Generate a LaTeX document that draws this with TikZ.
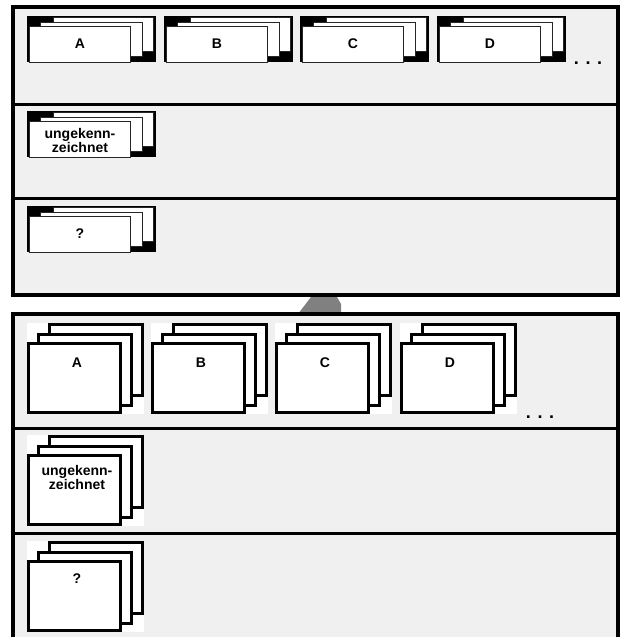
\documentclass[tikz,border=0pt]{standalone}
\usepackage{fontspec}
\setmainfont{Liberation Sans}
\definecolor{panelgray}{HTML}{F0F0F0}
\definecolor{arrowgray}{HTML}{808080}
\tikzset{
  frameline/.style={line width=4pt, line join=miter},
  divider/.style={line width=3pt},
  tcard/.style={fill=white, draw=black!85, line width=1pt},
  bcard/.style={fill=white, draw=black, line width=3pt},
  lbl/.style={font=\bfseries\fontsize{14}{14}\selectfont, align=center, inner sep=0pt},
  dotlbl/.style={font=\bfseries\fontsize{18}{18}\selectfont, inner sep=0pt, anchor=base},
}
\newcommand\TopGroup[5]{%
  \begin{scope}[shift={(#2,#3)}]
    \fill[black] (0,0) rectangle (129,46);
    \draw[tcard] (26.5,1.5) rectangle (126.5,35.5);
    \draw[tcard] (13.5,6.5) rectangle (115.5,40.5);
    \draw[tcard] (2.5,10.5) rectangle (103.5,46);
    \node[lbl] (#1) at (53,#5) {#4};
  \end{scope}}
\newcommand\BotGroup[5]{%
  \begin{scope}[shift={(#2,#3)}]
    \fill[white] (0,0) rectangle (117,91);
    \draw[bcard] (22.8,1.5) rectangle (115.5,72.5);
    \draw[bcard] (11.2,11.2) rectangle (104.2,82.2);
    \draw[bcard] (1.8,20.2) rectangle (93.2,89.8);
    \node[lbl] (#1) at (50,#5) {#4};
  \end{scope}}
\begin{document}
\begin{tikzpicture}[x=1pt, y=-1pt]
  \useasboundingbox (0,0) rectangle (625,637);
  \clip (0,0) rectangle (625,637);
  % gray arrow tip between the panels
  \fill[arrowgray] (298,314) -- (311,297) -- (337,297) -- (341,304) -- (341,314) -- cycle;
  % top panel
  \fill[panelgray] (13,7) rectangle (618,295);
  \draw[divider] (13,104) -- (618,104);
  \draw[divider] (13,198) -- (618,198);
  \draw[frameline] (13,7) rectangle (618,295);
  % bottom panel
  \fill[panelgray] (13,314) rectangle (618,645);
  \draw[divider] (13,428) -- (618,428);
  \draw[divider] (13,533) -- (618,533);
  \draw[frameline] (13,645) -- (13,314) -- (618,314) -- (618,645);
  % top cards
  \TopGroup{tA}{27}{16}{A}{28}
  \TopGroup{tB}{164}{16}{B}{28}
  \TopGroup{tC}{300}{16}{C}{28}
  \TopGroup{tD}{437}{16}{D}{28}
  \node[dotlbl] (tdots) at (588,64) {. . .};
  \TopGroup{tU}{27}{111}{ungekenn-\\zeichnet}{29}
  \TopGroup{tQ}{27}{206}{?}{28}
  % bottom cards
  \BotGroup{bA}{27}{323}{A}{40}
  \BotGroup{bB}{151}{323}{B}{40}
  \BotGroup{bC}{275}{323}{C}{40}
  \BotGroup{bD}{400}{323}{D}{40}
  \node[dotlbl] (bdots) at (540,418) {. . .};
  \BotGroup{bU}{27}{435}{ungekenn-\\zeichnet}{42}
  \BotGroup{bQ}{27}{541}{?}{38}
\end{tikzpicture}
\end{document}
